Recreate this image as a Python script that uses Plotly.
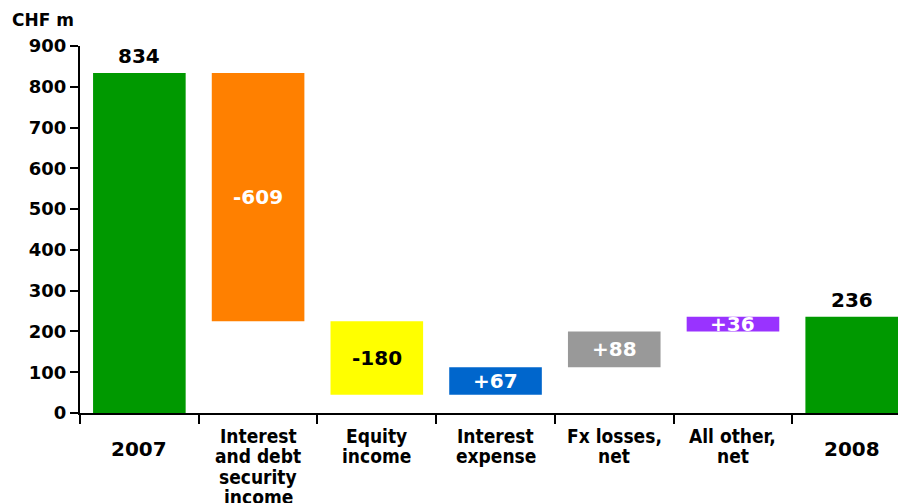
import plotly.graph_objects as go

categories = ["2007", "Interest<br>and debt<br>security<br>income", "Equity<br>income",
              "Interest<br>expense", "Fx losses,<br>net", "All other,<br>net", "2008"]
changes = [834, -609, -180, 67, 88, 36, 236]
is_total = [True, False, False, False, False, False, True]
colors = ["#009900", "#FF8000", "#FFFF00", "#0066CC", "#999999", "#9933FF", "#009900"]
label_colors = ["black", "white", "black", "white", "white", "white", "black"]
y_ticks = [0, 100, 200, 300, 400, 500, 600, 700, 800, 900]

bases, heights, labels = [], [], []
running = 0
for v, t in zip(changes, is_total):
    if t:
        bases.append(0)
        heights.append(v)
        running = v
        labels.append(str(v))
    else:
        start = running
        running = running + v
        bases.append(min(start, running))
        heights.append(abs(v))
        labels.append(("+" if v > 0 else "") + str(v))

xs = list(range(len(categories)))
fig = go.Figure()
fig.add_trace(go.Bar(x=xs, y=heights, base=bases, marker=dict(color=colors, line=dict(width=0)),
                     width=0.78, hoverinfo="skip"))

NUM_FONT = "DejaVu Sans, sans-serif"
CAT_FONT = "DejaVu Sans Condensed, Liberation Sans Narrow, sans-serif"

annotations = []
for i in xs:
    if is_total[i]:
        annotations.append(dict(x=i, y=bases[i] + heights[i], xref="x", yref="y", text="<b>%s</b>" % labels[i],
                                showarrow=False, yanchor="bottom", yshift=3,
                                font=dict(family=NUM_FONT, size=20, color=label_colors[i])))
    else:
        annotations.append(dict(x=i, y=bases[i] + heights[i] / 2, xref="x", yref="y", text="<b>%s</b>" % labels[i],
                                showarrow=False, yanchor="middle",
                                font=dict(family=NUM_FONT, size=20, color=label_colors[i])))
    lines = categories[i].split("<br>")
    if len(lines) == 1:
        annotations.append(dict(x=i, y=0, xref="x", yref="y", text="<b>%s</b>" % lines[0],
                                showarrow=False, yanchor="middle", yshift=-36,
                                font=dict(family=NUM_FONT, size=20, color="black")))
    else:
        for k, ln in enumerate(lines):
            annotations.append(dict(x=i, y=0, xref="x", yref="y", text="<b>%s</b>" % ln,
                                    showarrow=False, yanchor="middle", yshift=-(23 + 20.3 * k),
                                    font=dict(family=CAT_FONT, size=19, color="black")))
annotations.append(dict(x=0, y=1, xref="paper", yref="paper", text="<b>CHF m</b>", showarrow=False,
                        xanchor="left", yanchor="middle", xshift=-70, yshift=26,
                        font=dict(family=NUM_FONT, size=17, color="black")))

fig.update_layout(
    width=898, height=503,
    margin=dict(l=80, r=0, t=46, b=90),
    paper_bgcolor="white", plot_bgcolor="white",
    showlegend=False,
    annotations=annotations,
)
fig.update_xaxes(range=[-0.5, 6.39], tickvals=[i - 0.5 for i in xs], ticktext=["" for _ in xs],
                 ticks="outside", ticklen=9, tickwidth=2, tickcolor="black",
                 showline=True, linecolor="black", linewidth=2, showgrid=False, zeroline=False)
fig.update_yaxes(range=[0, 900], tickvals=y_ticks, ticks="outside", ticklen=8, tickwidth=2, tickcolor="black",
                 showline=True, linecolor="black", linewidth=2, showgrid=False, zeroline=False,
                 tickfont=dict(family=NUM_FONT, size=18, color="black", weight="bold"))

fig.write_html("out.html")
